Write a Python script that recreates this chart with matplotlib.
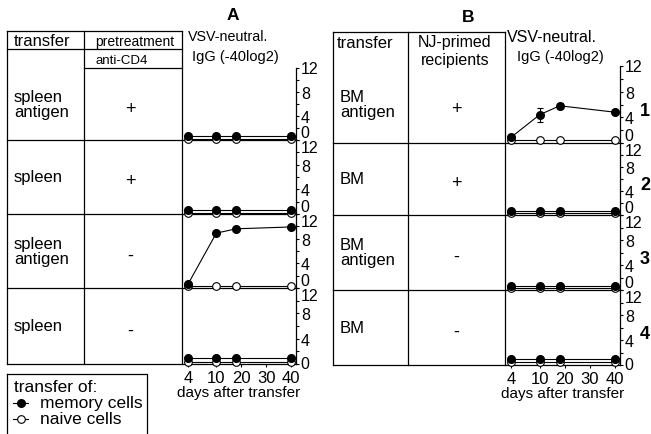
#!/usr/bin/env python3
"""
VSV-neutral. IgG after cell transfer (panels A and B)
table on the left, kinetics on the right of each row
"""

import matplotlib

matplotlib.use("Agg")
import matplotlib.pyplot as plt
import numpy as np

plt.rcParams["font.family"] = ["Liberation Sans", "DejaVu Sans"]

# ---- data ----
days = [4, 10, 18, 40]
x_ticks = [4, 10, 20, 30, 40]
y_ticks = [0, 4, 8, 12]

# panel A: transfer / anti-CD4 pretreatment
rows_A_transfer = ["spleen\nantigen", "spleen", "spleen\nantigen", "spleen"]
rows_A_treat = ["+", "+", "-", "-"]
memory_A = [
    [0.7, 0.7, 0.7, 0.7],
    [0.65, 0.65, 0.65, 0.65],
    [0.65, 8.9, 9.6, 9.9],
    [0.95, 0.95, 0.95, 0.95],
]
naive_A = [
    [0.25, 0.25, 0.25, 0.25],
    [0.2, 0.2, 0.2, 0.2],
    [0.3, 0.3, 0.3, 0.3],
    [0.3, 0.3, 0.3, 0.3],
]

# panel B: transfer / NJ-primed recipients
rows_B_transfer = ["BM\nantigen", "BM", "BM\nantigen", "BM"]
rows_B_treat = ["+", "+", "-", "-"]
memory_B = [
    [0.9, 4.4, 5.8, 4.8],
    [0.7, 0.7, 0.7, 0.7],
    [0.65, 0.65, 0.65, 0.65],
    [0.9, 0.9, 0.9, 0.9],
]
memory_B_err = [
    [0.2, 1.1, 0.45, 0.3],
    [0, 0, 0, 0],
    [0, 0, 0, 0],
    [0, 0, 0, 0],
]
naive_B = [
    [0.5, 0.5, 0.5, 0.5],
    [0.3, 0.3, 0.3, 0.3],
    [0.3, 0.3, 0.3, 0.3],
    [0.45, 0.45, 0.45, 0.45],
]
row_numbers = ["1", "2", "3", "4"]

W, H = 651, 435


# 4 -> 10 gets its own stretch, 10 -> 40 is compressed
def day_fwd(d):
    d = np.asarray(d, dtype=float)
    return np.where(d < 10, (d - 4) / 6.0, 1 + (d - 10) / 30.0 * 2.65)


def day_inv(p):
    p = np.asarray(p, dtype=float)
    return np.where(p < 1, 4 + 6.0 * p, 10 + (p - 1) * 30.0 / 2.65)


def px_box(left, top, right, bottom):
    return [left / W, 1 - bottom / H, (right - left) / W, (bottom - top) / H]


def draw_plot(fig, box, memory, naive, err, row_idx, last):
    ax = fig.add_axes(px_box(*box))
    ax.set_facecolor("none")
    ax.set_xscale("function", functions=(day_fwd, day_inv))
    ax.set_xlim(2.7, 42)
    ax.set_ylim(0, 12)
    for s in ["left", "top", "bottom"]:
        ax.spines[s].set_visible(False)
    ax.spines["right"].set_linewidth(0.9)

    ax.plot(days, naive, "-", color="black", lw=0.8, marker="o", ms=5.5,
            mfc="white", mec="black", mew=0.8, clip_on=False, zorder=3)
    if err is not None and any(e > 0 for e in err):
        ax.errorbar(days, memory, yerr=err, fmt="none", ecolor="black",
                    elinewidth=0.8, capsize=2, capthick=0.8, zorder=4)
    ax.plot(days, memory, "-", color="black", lw=0.8, marker="o", ms=5.5,
            mfc="black", mec="black", clip_on=False, zorder=5)

    ax.yaxis.tick_right()
    ax.set_yticks(y_ticks)
    ax.set_yticks([2, 6, 10], minor=True)
    ax.tick_params(axis="y", which="both", direction="out", length=2.5,
                   width=0.8, pad=1, labelsize=11.5)
    labels = ax.get_yticklabels()
    labels[0].set_va("center" if last else "bottom")
    labels[-1].set_va("center" if row_idx == 0 else "top")

    ax.set_xticks(x_ticks)
    ax.xaxis.set_minor_locator(matplotlib.ticker.NullLocator())
    if last:
        ax.set_xticklabels([str(t) for t in x_ticks])
        ax.tick_params(axis="x", direction="out", length=2, width=0.8,
                       pad=2, labelsize=12)
        ax.set_xlabel("days after transfer", fontsize=11, labelpad=0)
    else:
        ax.tick_params(axis="x", bottom=False, labelbottom=False)
    return ax


def draw_panel(fig, ov, cfg):
    xs = cfg["cols"]
    rows = cfg["rows"]
    right = cfg["right"]
    lw = 0.9

    # table frame
    ov.plot([xs[0], xs[2]], [cfg["top"], cfg["top"]], color="black", lw=lw)
    for x in xs:
        ov.plot([x, x], [cfg["top"], rows[-1]], color="black", lw=lw)
    for y in rows[1:]:
        ov.plot([xs[0], right], [y, y], color="black", lw=lw)
    for seg in cfg["head_lines"]:
        ov.plot(seg[0], seg[1], color="black", lw=lw)

    # row contents
    for i in range(4):
        yc = (rows[i] + rows[i + 1]) / 2
        ov.text(xs[0] + 7, yc, cfg["transfer"][i], fontsize=12, ha="left",
                va="center", linespacing=1.0)
        ov.text(cfg["sign_x"], yc + 4, cfg["treat"][i], fontsize=13,
                ha="center", va="center")
        err = cfg["err"][i] if cfg["err"] is not None else None
        draw_plot(fig, (xs[2], rows[i], right, rows[i + 1]),
                  cfg["memory"][i], cfg["naive"][i], err, i, i == 3)


def main():
    fig = plt.figure(figsize=(W / 100, H / 100), dpi=100)
    ov = fig.add_axes([0, 0, 1, 1], zorder=0)
    ov.set_xlim(0, W)
    ov.set_ylim(H, 0)
    ov.axis("off")

    panel_A = {
        "cols": [7, 84, 182], "rows": [69, 141, 215, 289, 365],
        "top": 32, "right": 296, "sign_x": 130,
        "head_lines": [([7, 182], [50, 50]), ([84, 182], [69, 69])],
        "transfer": rows_A_transfer, "treat": rows_A_treat,
        "memory": memory_A, "naive": naive_A, "err": None,
    }
    panel_B = {
        "cols": [333, 408, 505], "rows": [67, 144, 216, 291, 366],
        "top": 33, "right": 620, "sign_x": 456,
        "head_lines": [],
        "transfer": rows_B_transfer, "treat": rows_B_treat,
        "memory": memory_B, "naive": naive_B, "err": memory_B_err,
    }
    draw_panel(fig, ov, panel_A)
    draw_panel(fig, ov, panel_B)

    # headers A
    ov.text(233, 16, "A", fontsize=12.5, fontweight="bold", ha="center", va="center")
    ov.text(14, 42, "transfer", fontsize=12, ha="left", va="center")
    ov.text(95, 42, "pretreatment", fontsize=10, ha="left", va="center")
    ov.text(95, 61, "anti-CD4", fontsize=9.5, ha="left", va="center")
    ov.text(188, 37, "VSV-neutral.", fontsize=10.3, ha="left", va="center")
    ov.text(192, 57, "IgG (-40log2)", fontsize=10.5, ha="left", va="center")

    # headers B
    ov.text(468, 18, "B", fontsize=12.5, fontweight="bold", ha="center", va="center")
    ov.text(337, 43, "transfer", fontsize=12, ha="left", va="center")
    ov.text(455, 42, "NJ-primed", fontsize=11.5, ha="center", va="center")
    ov.text(455, 61, "recipients", fontsize=11.5, ha="center", va="center")
    ov.text(507, 38, "VSV-neutral.", fontsize=11.5, ha="left", va="center")
    ov.text(517, 57, "IgG (-40log2)", fontsize=10.5, ha="left", va="center")

    # row numbers right of panel B
    rows_B = panel_B["rows"]
    for i, num in enumerate(row_numbers):
        yc = (rows_B[i] + rows_B[i + 1]) / 2
        ov.text(645, yc + 6, num, fontsize=13, fontweight="bold",
                ha="center", va="center")

    # legend box (bottom left, runs off the page)
    ov.plot([7, 147, 147], [375, 375, 436], color="black", lw=0.9)
    ov.plot([7, 7], [375, 436], color="black", lw=0.9)
    ov.text(14, 388, "transfer of:", fontsize=12.5, ha="left", va="center")
    ov.plot([13, 28], [404, 404], color="black", lw=0.8)
    ov.plot([20.5], [404], "o", ms=5.5, mfc="black", mec="black")
    ov.text(40, 404, "memory cells", fontsize=12.5, ha="left", va="center")
    ov.plot([13, 28], [420, 420], color="black", lw=0.8)
    ov.plot([20.5], [420], "o", ms=5.5, mfc="white", mec="black", mew=0.8)
    ov.text(40, 420, "naive cells", fontsize=12.5, ha="left", va="center")

    fig.savefig("out.png", dpi=100)
    print("saved out.png")


if __name__ == "__main__":
    main()
